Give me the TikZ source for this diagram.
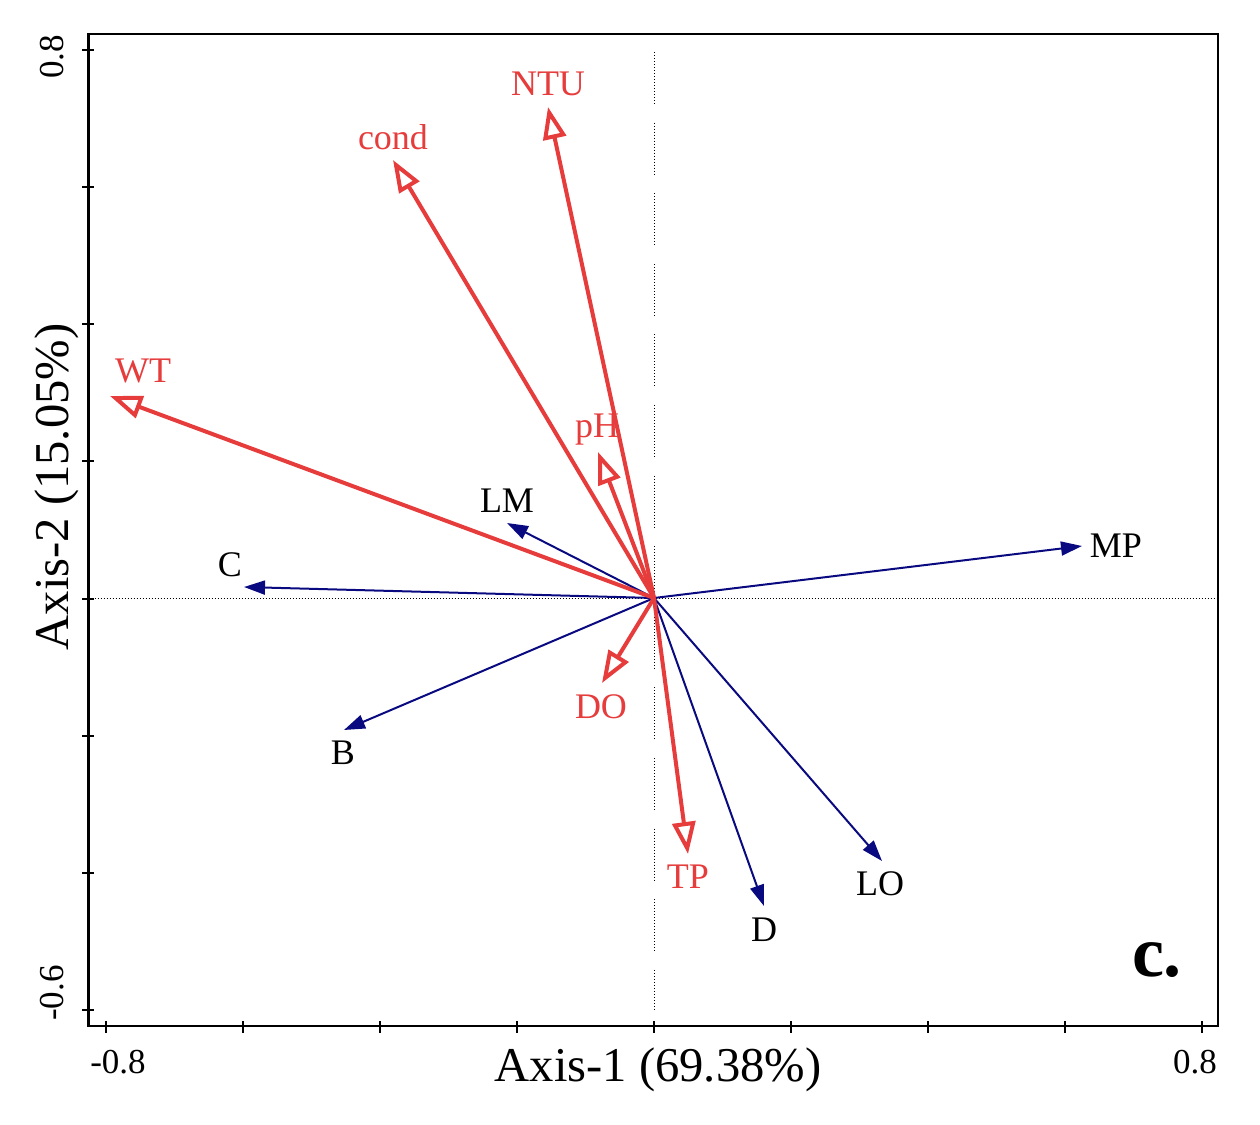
\documentclass[tikz,border=0pt]{standalone}
\usepackage{fontspec}
\setmainfont{Liberation Serif}
\usetikzlibrary{arrows.meta}
\definecolor{envred}{HTML}{E63C3C}
\definecolor{spblue}{HTML}{0A0A80}
\begin{document}
\begin{tikzpicture}[x=0.5pt,y=-0.5pt,
  frame/.style={line width=1.25pt,black},
  tickmark/.style={line width=1pt,black},
  dotline/.style={line width=0.5pt,black,dash pattern=on 0.5pt off 1pt},
  envarrow/.style={draw=envred,line width=2pt,-{Triangle[open,length=16pt,width=11.5pt]}},
  sparrow/.style={draw=spblue,line width=1pt,-{Triangle[length=10.5pt,width=7pt]}},
  envlabel/.style={text=envred,font=\fontsize{18}{20}\selectfont,inner sep=0pt},
  splabel/.style={text=black,font=\fontsize{18}{20}\selectfont,inner sep=0pt},
  ticklabel/.style={font=\fontsize{17.5}{19}\selectfont,inner sep=0pt},
  axislabel/.style={font=\fontsize{24.3}{26}\selectfont,inner sep=0pt}]
\useasboundingbox (0,0) rectangle (1260,1125);
% dotted reference lines
\draw[dotline] (88.5,598) -- (1218,598);
\foreach \k in {0,...,13}{
  \pgfmathsetmacro{\ya}{52+70.6*\k}
  \pgfmathsetmacro{\yb}{min(\ya+53,1010)}
  \draw[dotline] (654,\ya) -- (654,\yb);
}
% frame and ticks
\draw[frame] (88.5,34) rectangle (1218,1026);
\foreach \i in {0,...,8}{
  \draw[tickmark] ({106+137*\i},1021) -- ({106+137*\i},1033);
}
\foreach \i in {0,...,7}{
  \draw[tickmark] (82,{50+137.14*\i}) -- (94,{50+137.14*\i});
}
% tick labels
\node[ticklabel] (xl) at (118,1062) {-0.8};
\node[ticklabel] (xr) at (1195,1062) {0.8};
\node[ticklabel,rotate=90] (yt) at (52,57) {0.8};
\node[ticklabel,rotate=90] (yb) at (52,993) {-0.6};
% axis titles
\node[axislabel] (ax1) at (658,1070) {Axis-1 (69.38\%)};
\node[axislabel,rotate=90] (ax2) at (57,487) {Axis-2 (15.05\%)};
% panel letter
\node[font=\fontsize{36}{40}\selectfont\bfseries,inner sep=0pt] (panel) at (1157,960) {c.};
% origin
\coordinate (O) at (654,598);
% environmental tips
\coordinate (tWT) at (110,396);
\coordinate (tcond) at (393,160);
\coordinate (tNTU) at (548,107);
\coordinate (tpH) at (598,452);
\coordinate (tDO) at (602,683);
\coordinate (tTP) at (688,854);
% species tips
\coordinate (tMP) at (1082,546);
\coordinate (tLM) at (507,523);
\coordinate (tC) at (244,587);
\coordinate (tB) at (344,730);
\coordinate (tD) at (764,906);
\coordinate (tLO) at (882,861);
% species arrows
\foreach \t in {MP,LM,C,B,D,LO}{
  \draw[sparrow] (O) -- (t\t);
}
% env arrows
\foreach \t in {WT,cond,NTU,pH,DO,TP}{
  \draw[envarrow] (O) -- (t\t);
}
% labels
\node[envlabel] (WT) at (143,371) {WT};
\node[envlabel] (cond) at (393,137) {cond};
\node[envlabel] (NTU) at (548,84) {NTU};
\node[envlabel] (pH) at (597,430) {pH};
\node[envlabel] (DO) at (601,707) {DO};
\node[envlabel] (TP) at (688,877) {TP};
\node[splabel] (MP) at (1116,546) {MP};
\node[splabel] (LM) at (507,501) {LM};
\node[splabel] (C) at (230,565) {C};
\node[splabel] (B) at (343,753) {B};
\node[splabel] (D) at (764,930) {D};
\node[splabel] (LO) at (880,884) {LO};
\end{tikzpicture}
\end{document}
